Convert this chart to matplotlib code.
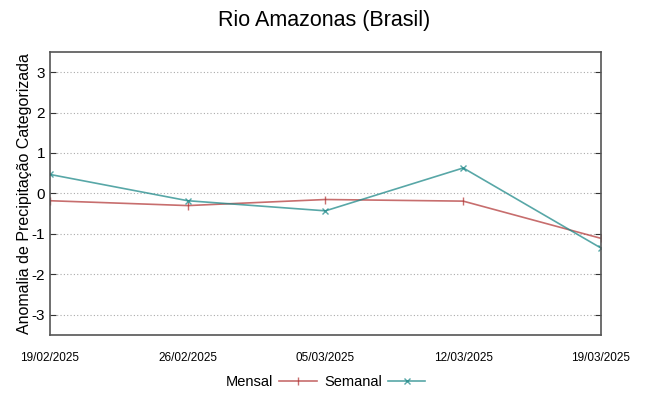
import numpy as np
import matplotlib
matplotlib.use('Agg')
import matplotlib.pyplot as plt

plt.rcParams['font.family'] = ['Liberation Sans', 'DejaVu Sans']
plt.rcParams['axes.unicode_minus'] = False

datas = ['19/02/2025', '26/02/2025', '05/03/2025', '12/03/2025', '19/03/2025']
mensal = [-0.18, -0.30, -0.15, -0.19, -1.11]
semanal = [0.47, -0.18, -0.43, 0.63, -1.35]

fig = plt.figure(figsize=(6.49, 3.96), dpi=100)
ax = fig.add_axes([0.077, 0.154, 0.849, 0.715])

x = np.arange(len(datas))
ax.plot(x, mensal, color='#b03030', alpha=0.7, lw=1.2, marker='|', ms=6, mew=1.0, label='Mensal')
ax.plot(x, semanal, color='#208a8a', alpha=0.75, lw=1.2, marker='x', ms=5, mew=1.0, label='Semanal')

ax.set_xlim(0, len(datas) - 1)
ax.set_ylim(-3.5, 3.5)
ax.set_yticks(range(-3, 4))
ax.set_xticks(x)
ax.set_xticklabels(datas, fontsize=8.5)
ax.tick_params(axis='y', labelsize=11, direction='in', right=True, length=4, color='#333333')
ax.tick_params(axis='x', length=0, pad=12)
ax.yaxis.grid(True, linestyle=(0, (1, 2)), color='#aaaaaa', lw=0.8)
for s in ax.spines.values():
    s.set_color('#555555')
    s.set_linewidth(1.2)

ax.set_ylabel('Anomalia de Precipitação Categorizada', fontsize=11.5, labelpad=0)
fig.suptitle('Rio Amazonas (Brasil)', fontsize=15.5, y=0.975)

ax.legend(loc='upper center', bbox_to_anchor=(0.5, -0.095), ncol=2, frameon=False,
          markerfirst=False, fontsize=10.5, handlelength=2.6, handletextpad=0.4,
          columnspacing=0.5)

fig.savefig('out.png', dpi=100)
